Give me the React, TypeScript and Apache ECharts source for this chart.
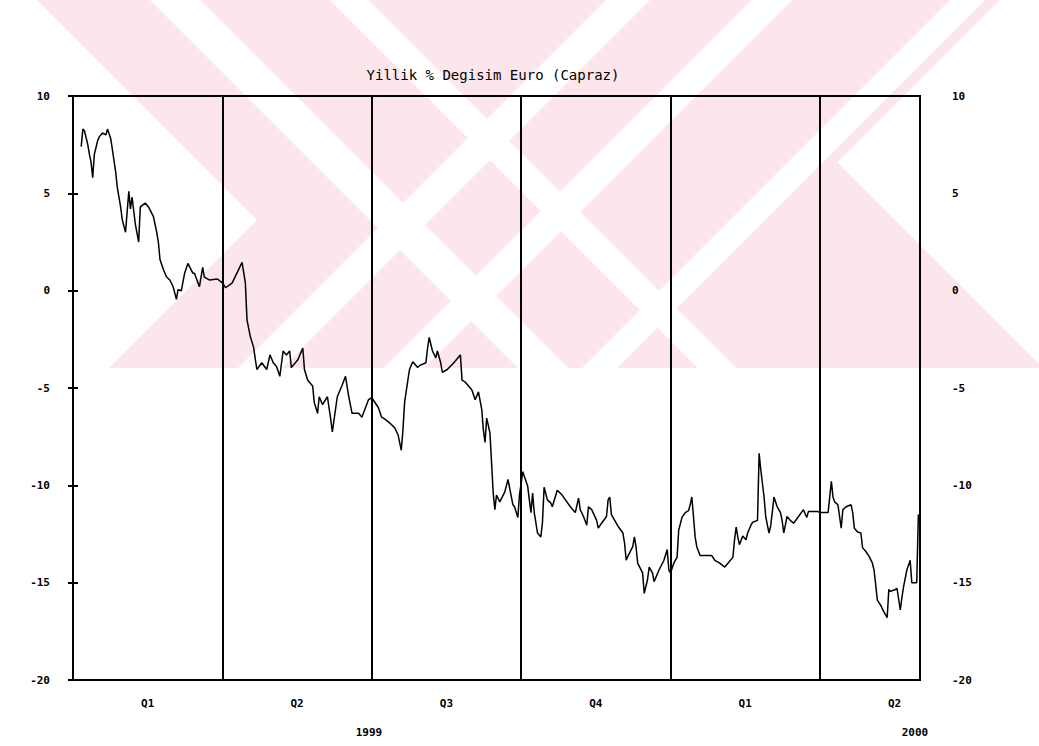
import React, { useEffect, useRef } from "react";
import * as echarts from "echarts";

// x = calendar day counted from 1 Jan 1999 (one quarter = 91 days)
const q1_1999_days = [5,6,7,9,10,11,12,13,15,16,18,20,21,23,24,26,27,29,30,32,34,35,36,38,40,41,44,46,49,51,52,53,55,57,59,61,63,64,66,68,70,73,74,77,79,80,83,88,91];
const q1_1999_vals = [7.4,8.3,8.2,7.5,7.0,6.6,5.8,7.0,7.7,7.9,8.1,8.0,8.3,7.8,7.25,6.1,5.3,4.3,3.65,3.0,5.1,4.2,4.8,3.4,2.5,4.3,4.5,4.3,3.8,3.0,2.5,1.6,1.1,0.7,0.55,0.2,-0.45,0.05,0.0,0.9,1.4,0.9,0.9,0.2,1.2,0.7,0.55,0.6,0.4];

const q2_1999_days = [93,97,103,105,106,108,110,112,115,118,120,122,124,126,128,130,132,133,137,140,141,143,146,147,149,150,152,155,157,158,161,164,166,168,170,174,176,180];
const q2_1999_vals = [0.15,0.4,1.45,0.4,-1.5,-2.35,-2.9,-4.05,-3.7,-4.05,-3.3,-3.7,-3.9,-4.4,-3.1,-3.3,-3.1,-3.95,-3.55,-2.95,-4.05,-4.6,-4.9,-5.75,-6.3,-5.45,-5.85,-5.45,-6.6,-7.25,-5.45,-4.85,-4.4,-5.45,-6.3,-6.3,-6.5,-5.6];

const q3_1999_days = [182,186,188,190,193,196,198,200,201,202,204,205,207,210,211,215,216,217,219,221,222,224,225,228,232,236,237,239,241,243,245,247,249,250,251,252,254,255,256,257,258,260,263,265,268,269,271,272];
const q3_1999_vals = [-5.5,-6.0,-6.5,-6.6,-6.8,-7.05,-7.4,-8.2,-7.15,-5.75,-4.6,-4.05,-3.65,-3.95,-3.85,-3.7,-2.95,-2.4,-3.1,-3.45,-3.1,-3.7,-4.2,-4.05,-3.7,-3.3,-4.6,-4.7,-4.9,-5.1,-5.6,-5.2,-6.1,-7.15,-7.8,-6.55,-7.3,-8.85,-10.4,-11.25,-10.5,-10.85,-10.35,-9.7,-11.0,-11.1,-11.65,-10.5];

const q4_1999_days = [274,277,278,279,280,281,283,285,286,287,289,291,292,295,298,300,303,306,308,309,311,313,314,316,319,320,322,325,326,327,328,332,335,336,337,338,341,342,343,344,347,348,350,351,353,354,357,360,362,363,364];
const q4_1999_vals = [-9.3,-10.05,-10.75,-11.4,-10.4,-11.4,-12.45,-12.65,-11.9,-10.1,-10.75,-10.9,-11.1,-10.25,-10.5,-10.75,-11.1,-11.4,-10.65,-11.25,-11.6,-12.05,-11.1,-11.25,-11.8,-12.2,-11.95,-11.6,-10.75,-10.6,-11.5,-12.1,-12.45,-12.95,-13.85,-13.65,-13.15,-12.65,-13.15,-14.0,-14.5,-15.55,-14.85,-14.2,-14.5,-14.95,-14.35,-13.85,-13.3,-14.35,-14.5];

const q1_2000_days = [366,368,369,371,373,375,376,377,378,379,380,382,385,389,391,394,397,399,402,403,404,405,406,408,410,411,413,414,417,418,419,421,422,424,425,426,427,429,431,432,433,435,437,439,442,445,447,448,451,454];
const q1_2000_vals = [-14.0,-13.7,-12.3,-11.65,-11.4,-11.3,-11.0,-10.6,-11.6,-12.65,-13.15,-13.6,-13.6,-13.6,-13.85,-14.0,-14.2,-14.0,-13.7,-12.8,-12.15,-12.65,-13.05,-12.6,-12.8,-12.45,-12.05,-11.9,-11.8,-8.35,-9.2,-10.6,-11.6,-12.45,-12.1,-11.4,-10.6,-11.1,-11.4,-11.8,-12.45,-11.6,-11.8,-11.95,-11.6,-11.25,-11.65,-11.35,-11.35,-11.35];

const q2_2000_days = [455,460,461,462,463,464,466,468,469,471,474,475,476,478,480,481,483,485,487,488,489,490,492,494,496,497,498,501,502,504,505,506,508,510,511,514,515];
const q2_2000_vals = [-11.4,-11.4,-10.6,-9.8,-10.6,-10.85,-11.0,-12.2,-11.25,-11.1,-11.0,-11.4,-12.2,-12.4,-12.45,-13.2,-13.4,-13.65,-14.0,-14.35,-15.1,-15.9,-16.15,-16.5,-16.8,-15.35,-15.45,-15.35,-15.3,-16.4,-15.75,-15.2,-14.35,-13.85,-15.0,-15.0,-11.5];

const quarterLabels = ["Q1", "Q2", "Q3", "Q4", "Q1", "Q2"];
const yearLabels = ["1999", "2000"];
const titleText = "Yillik % Degisim Euro (Capraz)";

const QUARTER_DAYS = 91;
const X_MAX = 516;
const Y_MIN = -20;
const Y_MAX = 10;
const Y_STEP = 5;

const FONT = "'DejaVu Sans Mono', monospace";

export default function App() {
  const ref = useRef<HTMLDivElement>(null);

  useEffect(() => {
    if (!ref.current) return;
    const chart = echarts.init(ref.current, null, { renderer: "svg" });

    const days = [
      ...q1_1999_days, ...q2_1999_days, ...q3_1999_days,
      ...q4_1999_days, ...q1_2000_days, ...q2_2000_days,
    ];
    const vals = [
      ...q1_1999_vals, ...q2_1999_vals, ...q3_1999_vals,
      ...q4_1999_vals, ...q1_2000_vals, ...q2_2000_vals,
    ];
    const data = days.map((d, i) => [d, vals[i]]);

    const half = QUARTER_DAYS / 2;
    const labelStyle = {
      color: "#000",
      fontFamily: FONT,
      fontSize: 11,
      fontWeight: "bold" as const,
    };

    // background watermark (decorative): diagonal pink bands with white stripes
    const H = 368;
    const PINK = "#fce6eb";
    const back = (d1: number, d2: number) => [[d1, 0], [d2, 0], [d2 + H, H], [d1 + H, H]];
    const fwd = (c1: number, c2: number) => [[c1, 0], [c2, 0], [c2 - H, H], [c1 - H, H]];
    const wm: any[] = [];
    const addPoly = (pts: number[][], fill: string) =>
      wm.push({ type: "polygon", silent: true, z: -10, shape: { points: pts }, style: { fill, stroke: "none" } });
    addPoly(back(37, 675), PINK);
    addPoly(fwd(477, 1000), PINK);
    addPoly(fwd(606, 650), "#ffffff");
    addPoly(fwd(752, 792), "#ffffff");
    addPoly(fwd(950, 985), "#ffffff");
    addPoly(back(150, 200), "#ffffff");
    addPoly(back(330, 368), "#ffffff");

    chart.setOption({
      animation: false,
      backgroundColor: "#ffffff",
      title: {
        text: titleText,
        left: 488,
        top: 63,
        textAlign: "center",
        textStyle: { color: "#000", fontFamily: FONT, fontSize: 14, fontWeight: "normal" },
      },
      grid: {
        left: 73,
        right: 119,
        top: 96,
        bottom: 66,
        show: true,
        borderColor: "#000",
        borderWidth: 2,
        backgroundColor: "transparent",
      },
      xAxis: [
        {
          type: "value",
          min: 0,
          max: X_MAX,
          interval: QUARTER_DAYS,
          axisLine: { show: false },
          axisTick: { show: false },
          axisLabel: { show: false },
          splitLine: { show: true, lineStyle: { color: "#000", width: 2 } },
        },
        {
          type: "value",
          min: 0,
          max: X_MAX,
          interval: half,
          position: "bottom",
          axisLine: { show: false },
          axisTick: { show: false },
          splitLine: { show: false },
          axisLabel: {
            ...labelStyle,
            margin: 18,
            showMinLabel: false,
            showMaxLabel: false,
            formatter: (v: number) => {
              const k = v / half;
              if (Math.abs(k - Math.round(k)) > 1e-6) return "";
              const r = Math.round(k);
              if (r % 2 !== 1) return "";
              return quarterLabels[(r - 1) / 2] ?? "";
            },
          },
        },
      ],
      yAxis: [
        {
          type: "value",
          min: Y_MIN,
          max: Y_MAX,
          interval: Y_STEP,
          position: "left",
          axisLine: { show: false },
          axisTick: { show: true, inside: true, length: 5, lineStyle: { color: "#000", width: 2 } },
          splitLine: { show: false },
          axisLabel: { ...labelStyle, margin: 23 },
        },
        {
          type: "value",
          min: Y_MIN,
          max: Y_MAX,
          interval: Y_STEP,
          position: "right",
          axisLine: { show: false },
          axisTick: { show: true, inside: true, length: 5, lineStyle: { color: "#000", width: 2 } },
          splitLine: { show: false },
          axisLabel: { ...labelStyle, margin: 32 },
        },
      ],
      graphic: [
        ...wm,
        {
          type: "text",
          x: 369,
          y: 732,
          z: 10,
          style: { text: yearLabels[0], fill: "#000", font: `bold 11px ${FONT}`, textAlign: "center", textVerticalAlign: "middle" },
        },
        {
          type: "text",
          x: 915,
          y: 732,
          z: 10,
          style: { text: yearLabels[1], fill: "#000", font: `bold 11px ${FONT}`, textAlign: "center", textVerticalAlign: "middle" },
        },
      ],
      series: [
        {
          type: "line",
          xAxisIndex: 0,
          yAxisIndex: 0,
          data,
          showSymbol: false,
          silent: true,
          lineStyle: { color: "#000", width: 1.5 },
          z: 5,
        },
      ],
    });

    return () => chart.dispose();
  }, []);

  return (
    <div
      ref={ref}
      style={{ position: "absolute", left: 0, top: 0, width: 1039, height: 746, background: "#fff" }}
    />
  );
}
